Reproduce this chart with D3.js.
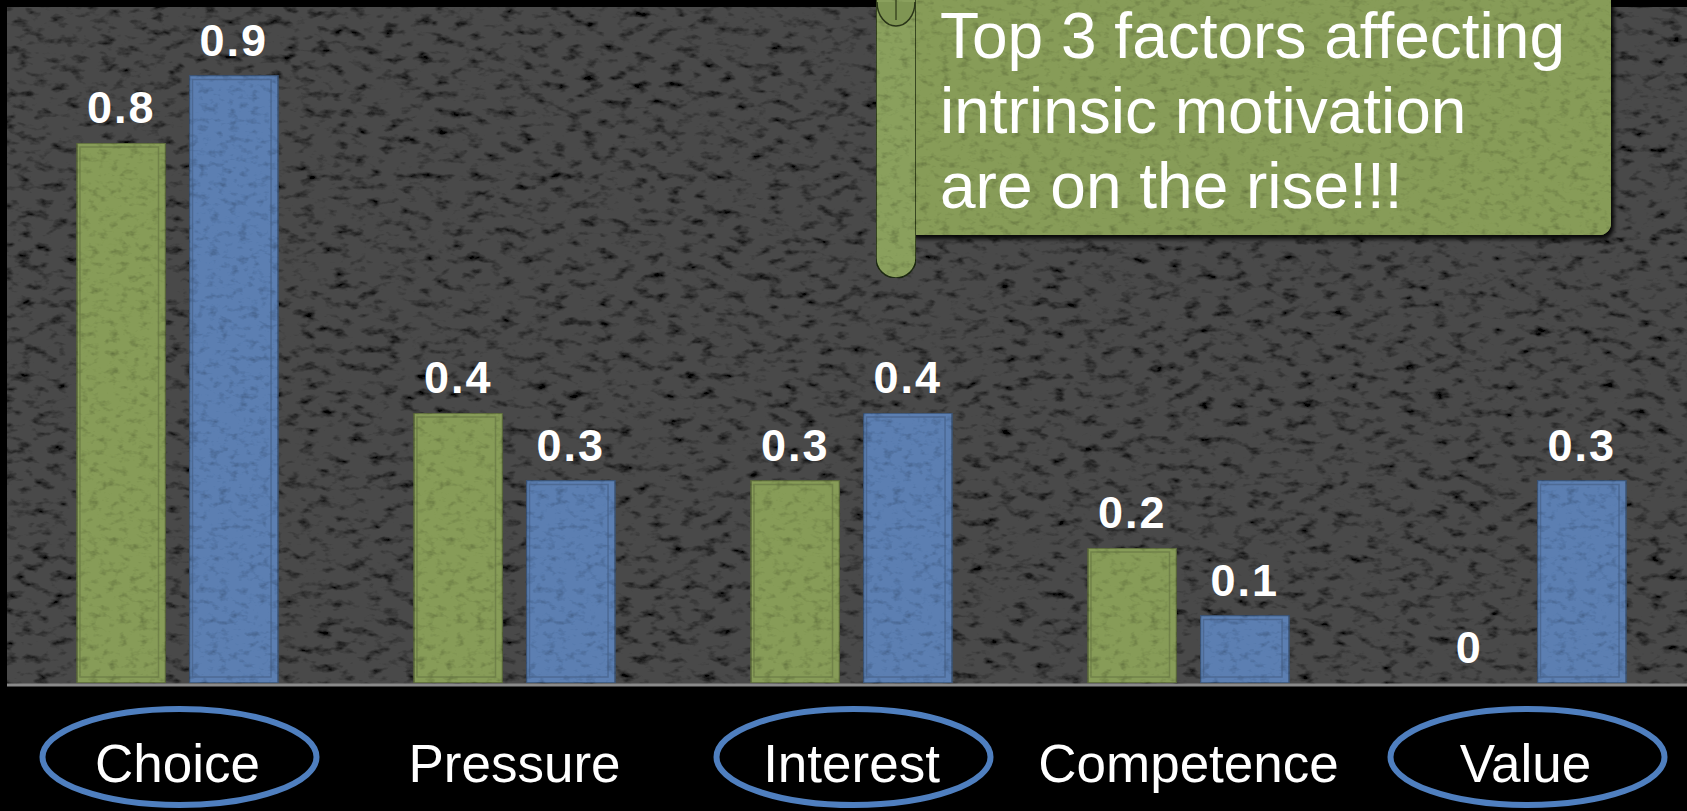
<!DOCTYPE html>
<html>
<head>
<meta charset="utf-8">
<script src="https://cdn.jsdelivr.net/npm/d3@7"></script>
<style>
  html, body { margin: 0; padding: 0; background: #000; }
  svg { display: block; }
</style>
</head>
<body>
<div id="chart"></div>
<script>
const W = 1687, H = 811;

// data
const categories = ['Choice', 'Pressure', 'Interest', 'Competence', 'Value'];
const seriesKeys = ['s1', 's2'];
const series1 = [0.8, 0.4, 0.3, 0.2, 0];
const series2 = [0.9, 0.3, 0.4, 0.1, 0.3];
const circled = ['Choice', 'Interest', 'Value'];
const calloutLines = ['Top 3 factors affecting', 'intrinsic motivation', 'are on the rise!!!'];

const GREEN = '#879c59';
const BLUE  = '#5b7fb2';
const RING  = '#4f7fbf';
const FONT  = '"Liberation Sans", Arial, Helvetica, sans-serif';

const plotTop = 7, plotLeft = 7, baseY = 684;

const svg = d3.select('#chart').append('svg')
  .attr('width', W).attr('height', H)
  .attr('viewBox', `0 0 ${W} ${H}`);

/* ── texture filters ─────────────────────────── */
const defs = svg.append('defs');

function grain(id, freq, strength, seed) {
  const f = defs.append('filter').attr('id', id)
    .attr('x', 0).attr('y', 0).attr('width', '100%').attr('height', '100%');
  f.append('feTurbulence').attr('type', 'fractalNoise')
    .attr('baseFrequency', freq).attr('numOctaves', 3).attr('seed', seed).attr('result', 'n');
  f.append('feColorMatrix').attr('in', 'n').attr('type', 'matrix')
    .attr('values', `0 0 0 0 0  0 0 0 0 0  0 0 0 0 0  ${-strength * 3} 0 0 0 ${strength * 1.45}`)
    .attr('result', 'spots');
  f.append('feComposite').attr('in', 'spots').attr('in2', 'SourceGraphic')
    .attr('operator', 'in').attr('result', 'clipped');
  const m = f.append('feMerge');
  m.append('feMergeNode').attr('in', 'SourceGraphic');
  m.append('feMergeNode').attr('in', 'clipped');
}
grain('bgGrain', '0.06 0.11', 1.0, 7);
grain('barGrain', '0.1 0.16', 0.35, 3);

const shadow = defs.append('filter').attr('id', 'shadow')
  .attr('x', '-5%').attr('y', '-5%').attr('width', '115%').attr('height', '125%');
shadow.append('feDropShadow').attr('dx', 3).attr('dy', 4).attr('stdDeviation', 2)
  .attr('flood-color', '#000').attr('flood-opacity', 0.9);

/* ── background ──────────────────────────────── */
svg.append('rect').attr('width', W).attr('height', H).attr('fill', '#000');
svg.append('rect')
  .attr('x', plotLeft).attr('y', plotTop)
  .attr('width', W - plotLeft).attr('height', baseY - plotTop)
  .attr('fill', '#4a4a4a')
  .attr('filter', 'url(#bgGrain)');

/* ── scales ──────────────────────────────────── */
const x0 = d3.scaleBand().domain(categories).range([9, 1694]).padding(0);
const x1 = d3.scaleBand().domain(seriesKeys).range([0, x0.bandwidth()])
  .paddingInner(0.213).paddingOuter(0.604);
const y = d3.scaleLinear().domain([0, 1]).range([baseY - 1, plotTop + 1]);

const rows = categories.map((c, i) => ({
  cat: c,
  vals: [{ key: 's1', v: series1[i], color: GREEN }, { key: 's2', v: series2[i], color: BLUE }]
}));

/* ── bars ────────────────────────────────────── */
const grp = svg.selectAll('.grp').data(rows).join('g')
  .attr('class', 'grp')
  .attr('transform', d => `translate(${x0(d.cat)},0)`);

const bar = grp.selectAll('.bar').data(d => d.vals).join('g').attr('class', 'bar');

bar.filter(d => d.v > 0).append('rect')
  .attr('x', d => x1(d.key))
  .attr('y', d => y(d.v))
  .attr('width', x1.bandwidth())
  .attr('height', d => y(0) - y(d.v))
  .attr('fill', d => d.color)
  .attr('stroke', d => d3.color(d.color).darker(1.2))
  .attr('stroke-width', 1.5)
  .attr('filter', 'url(#barGrain)');

// inner bevel line
bar.filter(d => d.v > 0).append('rect')
  .attr('x', d => x1(d.key) + 3)
  .attr('y', d => y(d.v) + 4)
  .attr('width', x1.bandwidth() - 10)
  .attr('height', d => y(0) - y(d.v) - 10)
  .attr('fill', 'none')
  .attr('stroke', d => d3.color(d.color).darker(0.9))
  .attr('stroke-opacity', 0.6)
  .attr('stroke-width', 1.5);

// value labels
bar.append('text')
  .attr('x', d => x1(d.key) + x1.bandwidth() / 2)
  .attr('y', d => y(d.v) - 20)
  .attr('text-anchor', 'middle')
  .attr('font-family', FONT)
  .attr('font-weight', 'bold')
  .attr('font-size', 45)
  .attr('letter-spacing', 2)
  .attr('fill', '#fff')
  .text(d => d.v);

/* ── baseline + category axis ────────────────── */
svg.append('line')
  .attr('x1', plotLeft).attr('x2', W)
  .attr('y1', baseY + 1).attr('y2', baseY + 1)
  .attr('stroke', '#8a8a8a').attr('stroke-width', 3);

const xAxis = svg.append('g')
  .attr('transform', `translate(0,${baseY + 2})`)
  .call(d3.axisBottom(x0).tickSize(0).tickPadding(0));
xAxis.select('.domain').remove();
xAxis.selectAll('text')
  .attr('y', 96)
  .attr('dy', 0)
  .attr('font-family', FONT)
  .attr('font-size', 53)
  .attr('fill', '#fff');

svg.selectAll('.ring').data(circled).join('ellipse')
  .attr('class', 'ring')
  .attr('cx', d => x0(d) + x0.bandwidth() / 2 + 2)
  .attr('cy', 757)
  .attr('rx', 137)
  .attr('ry', 48)
  .attr('fill', 'none')
  .attr('stroke', RING)
  .attr('stroke-width', 6);

/* ── scroll callout ──────────────────────────── */
const callout = svg.append('g');
callout.append('rect')
  .attr('x', 905).attr('y', -20)
  .attr('width', 706).attr('height', 255)
  .attr('rx', 12)
  .attr('fill', GREEN)
  .attr('filter', 'url(#shadow)');
callout.append('rect')
  .attr('x', 905).attr('y', -20)
  .attr('width', 706).attr('height', 255)
  .attr('rx', 12)
  .attr('fill', GREEN)
  .attr('filter', 'url(#barGrain)');
callout.append('rect')
  .attr('x', 876).attr('y', -30)
  .attr('width', 40).attr('height', 308)
  .attr('rx', 20)
  .attr('fill', '#8aa05d')
  .attr('stroke', '#1f2a12').attr('stroke-width', 1.5)
  .attr('filter', 'url(#barGrain)');
callout.append('path')
  .attr('d', 'M877,2 A19,24 0 0 0 915,2')
  .attr('fill', '#7f9553')
  .attr('stroke', '#2a3518').attr('stroke-width', 1.5);
callout.append('line')
  .attr('x1', 896).attr('x2', 896).attr('y1', 0).attr('y2', 20)
  .attr('stroke', '#3c4a22').attr('stroke-width', 1.5);

callout.selectAll('.cl').data(calloutLines).join('text')
  .attr('class', 'cl')
  .attr('x', 940)
  .attr('y', (d, i) => 58 + i * 75)
  .attr('font-family', FONT)
  .attr('font-size', 64)
  .attr('fill', '#fff')
  .text(d => d);
</script>
</body>
</html>
